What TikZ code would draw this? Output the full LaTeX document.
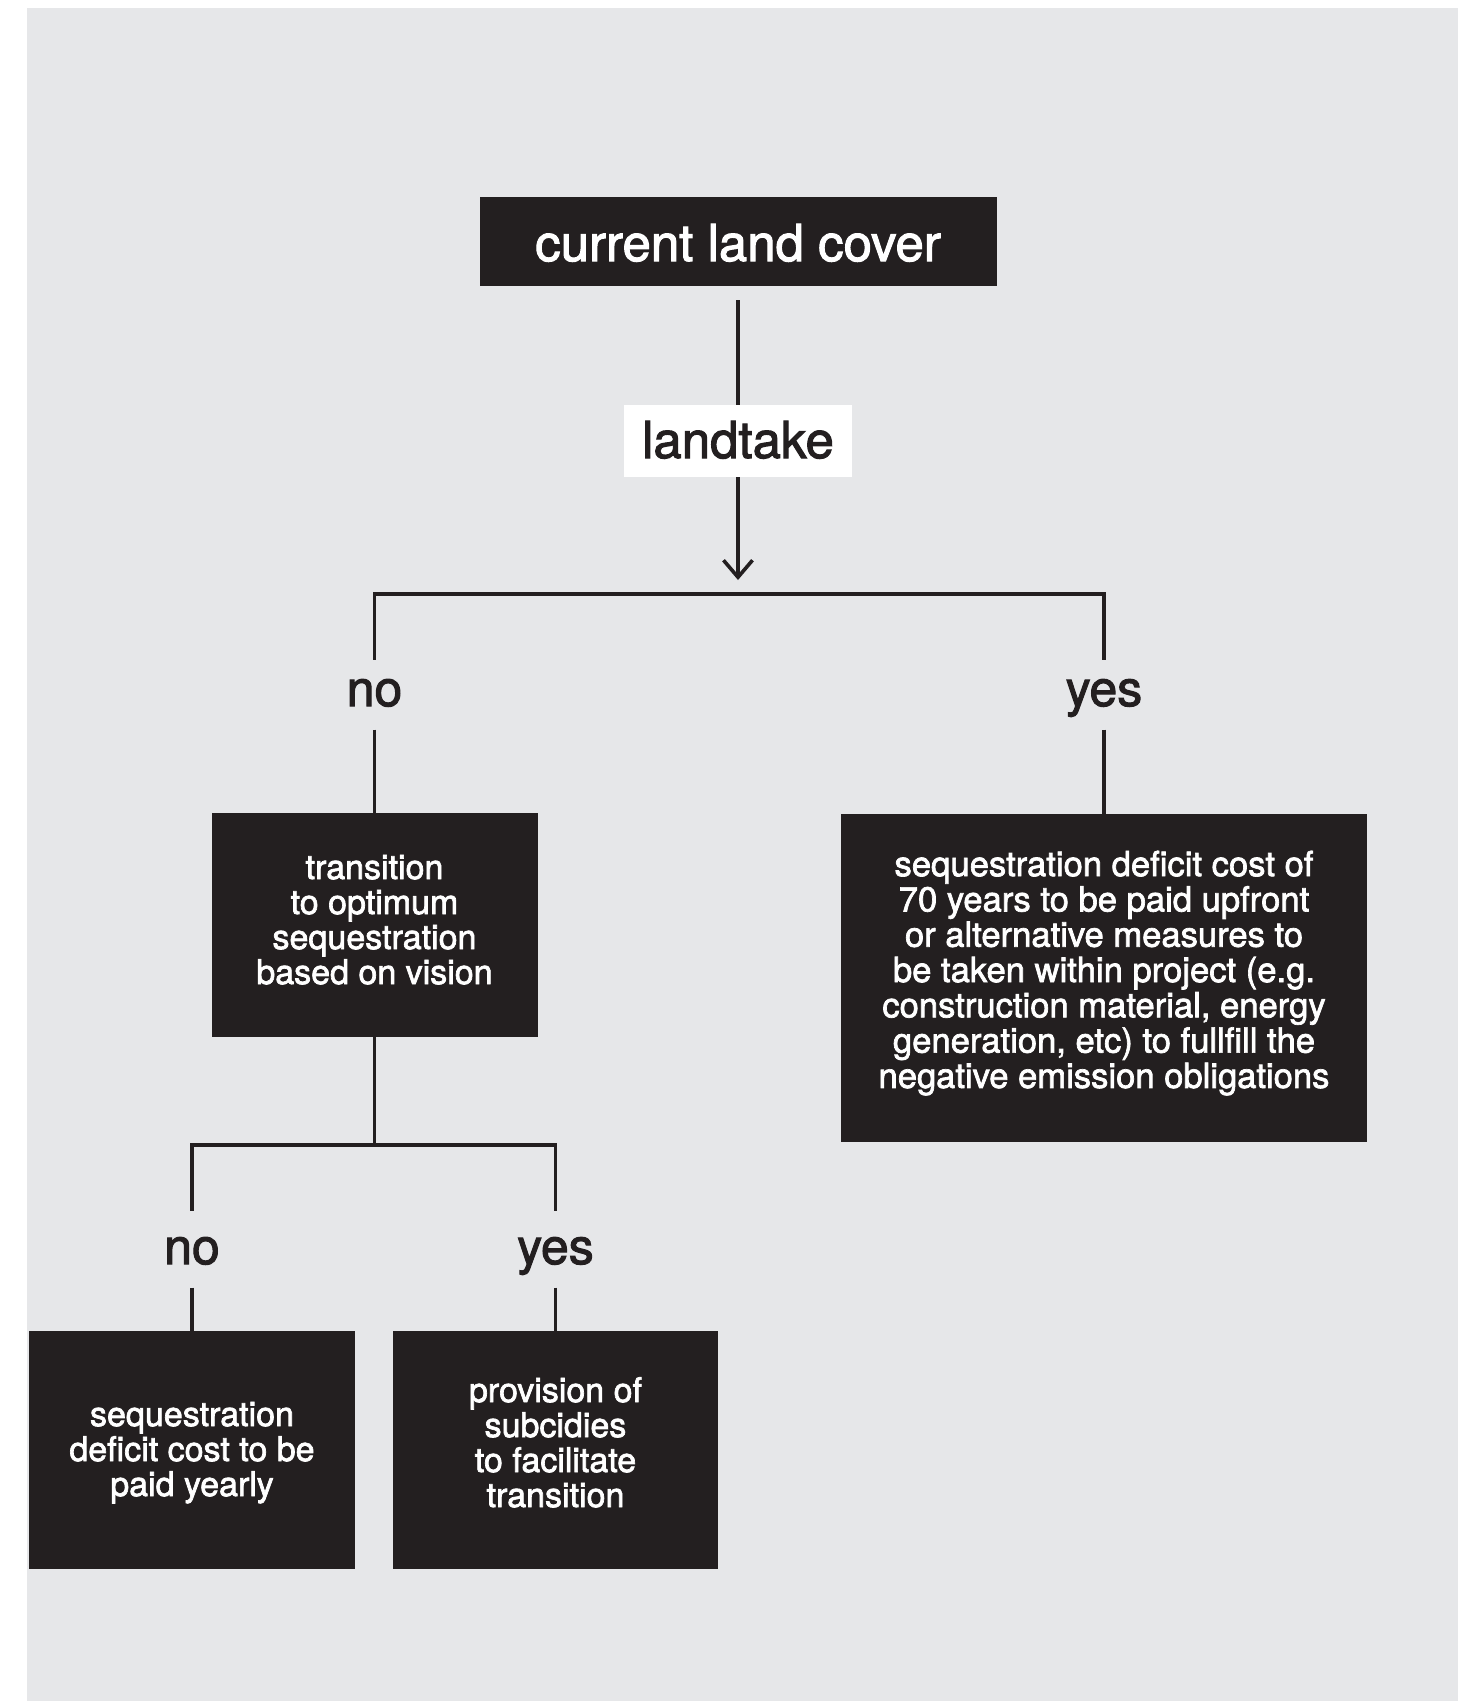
\documentclass[tikz,border=0pt]{standalone}
\usepackage{fontspec}
\setmainfont{TeX Gyre Heros}[FakeBold=2]
\usetikzlibrary{arrows.meta}
\definecolor{panel}{HTML}{E6E7E9}
\definecolor{ink}{HTML}{231F20}
% stack of centred lines with a fixed first-line height and a chosen last-line depth
\newcommand\linesin[2]{\rule{0pt}{30pt}#2\rule[-#1]{0pt}{#1}}
\begin{document}
\begin{tikzpicture}[x=1pt,y=-1pt,
  darkbox/.style={fill=ink, text=white, inner sep=0pt, align=center,
    font=\fontsize{34}{35}\selectfont},
  titlebox/.style={inner sep=0pt, font=\fontsize{51}{55}\selectfont},
  branch/.style={inner sep=0pt, text=ink, text depth=23.5pt, anchor=base,
    font=\fontsize{50}{55}\selectfont},
  wire/.style={draw=ink, line width=3.6pt},
]
\useasboundingbox (0,0) rectangle (1458,1701);
\fill[white] (0,0) rectangle (1458,1701);
\fill[panel] (27,8) rectangle (1458,1701);

% top of the tree
\node[titlebox, fill=ink, text=white, minimum width=517pt, minimum height=89pt,
  text height=39pt, text depth=0pt] (cover) at (738,241.5) {current land cover};
\node[titlebox, fill=white, text=ink, minimum width=228pt, minimum height=72pt,
  text height=36pt, text depth=2pt] (take) at (738,441) {landtake};
\coordinate (fork1) at (738,594);

% first decision
\node[branch, text height=46pt] (no1) at (374.5,706) {no};
\node[branch, text height=46pt] (yes1) at (1104,706) {yes};

\node[darkbox, minimum width=326pt, minimum height=224pt] (vision) at (374.5,925)
  {\linesin{17pt}{transition\\to optimum\\sequestration\\based on vision}};
\node[darkbox, font=\fontsize{34.6}{35.3}\selectfont, minimum width=526pt, minimum height=328pt] (upfront) at (1104,978)
  {\linesin{22pt}{sequestration deficit cost of\\70 years to be paid upfront\\or alternative measures to\\be taken within project (e.g.\\construction material, energy\\generation, etc) to fullfill the\\negative emission obligations}};

% second decision
\coordinate (fork2) at (374.5,1145);
\node[branch, text height=53pt] (no2) at (192,1264) {no};
\node[branch, text height=53pt] (yes2) at (555.5,1264) {yes};

\node[darkbox, minimum width=326pt, minimum height=238pt] (yearly) at (192,1450)
  {\linesin{8pt}{sequestration\\deficit cost to be\\paid yearly}};
\node[darkbox, minimum width=325pt, minimum height=238pt] (subsidy) at (555.5,1450)
  {\linesin{21pt}{provision of\\subcidies\\to facilitate\\transition}};

% connectors
\draw[wire, shorten <=14pt] (cover.south) -- (take.north);
\draw[wire, -{Straight Barb[length=17pt,width=29pt]}, shorten >=14pt] (take.south) -- (fork1);
\draw[wire] (no1.north) |- (fork1) -| (yes1.north);
\draw[wire] (no1.south) -- (vision.north);
\draw[wire] (yes1.south) -- (upfront.north);
\draw[wire] (vision.south) -- (fork2);
\draw[wire] (no2.north) |- (fork2) -| (yes2.north);
\draw[wire] (no2.south) -- (yearly.north);
\draw[wire] (yes2.south) -- (subsidy.north);
\end{tikzpicture}
\end{document}
